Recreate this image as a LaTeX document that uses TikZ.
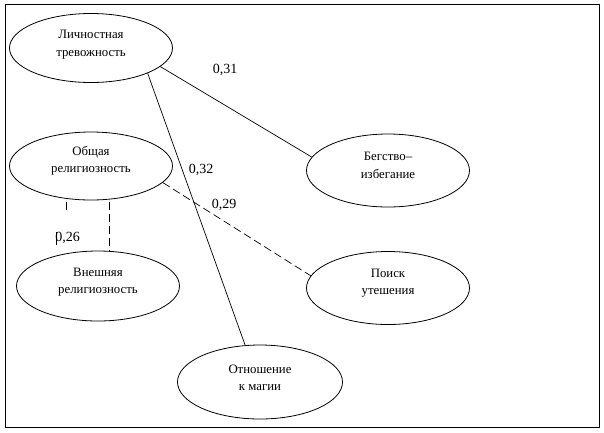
\documentclass[tikz,border=0pt]{standalone}
\usepackage{fontspec}
\setmainfont{Liberation Serif}
\newfontfamily\tnr{Liberation Serif}
\usetikzlibrary{shapes.geometric}
\begin{document}
\begin{tikzpicture}[x=1pt,y=-1pt,
  ell/.style={draw,ellipse,line width=0.8pt,inner sep=0pt,minimum width=163pt,minimum height=69pt},
  lbl/.style={align=center,inner sep=0pt,font=\tnr\fontsize{12.8}{17.5}\selectfont},
  num/.style={font=\tnr\fontsize{14}{16}\selectfont,inner sep=0pt},
  link/.style={line width=0.7pt},
  dlink/.style={line width=0.7pt,dash pattern=on 8pt off 4pt}]
\useasboundingbox (0,0) rectangle (604,432);
\draw[line width=1pt] (5.5,4) rectangle (599,427);
\node[ell] (lt) at (91,48) {};
\node[ell,minimum height=68pt] (or) at (91,166) {};
\node[ell,minimum height=70pt] (vr) at (98,286) {};
\node[ell,minimum height=73pt] (bi) at (388,170.5) {};
\node[ell,minimum height=73pt] (pu) at (388,288) {};
\node[ell,minimum width=165pt,minimum height=74pt] (km) at (260,382) {};
\node[lbl] (tlt) at ([yshift=3.5pt]lt.center) {Личностная\\тревожность};
\node[lbl] (tor) at ([yshift=5pt]or.center) {Общая\\религиозность};
\node[lbl] (tvr) at ([yshift=4pt]vr.center) {Внешняя\\религиозность};
\node[lbl] (tbi) at ([yshift=5pt]bi.center) {Бегство–\\избегание};
\node[lbl] (tpu) at ([yshift=5pt]pu.center) {Поиск\\утешения};
\node[lbl] (tkm) at ([yshift=4pt]km.center) {Отношение\\к магии};
\draw[link] (lt.-15) -- (bi.170);
\draw[link] (lt.-24) -- (km.112);
\draw[dlink] (or.-13) -- (pu.171);
\coordinate (a1) at (109,202);
\coordinate (a2) at (109,251);
\coordinate (b1) at (66,202);
\coordinate (b2) at (66,210);
\coordinate (c1) at (56,232);
\coordinate (c2) at (56,245);
\draw[dlink] (a1) -- (a2);
\draw[link] (b1) -- (b2);
\node[num] (n31) at (225,70) {0,31};
\node[num] (n32) at (201,170) {0,32};
\node[num] (n29) at (224,205) {0,29};
\node[num] (n26) at (67.5,238) {0,26};
\draw[link] (c1) -- (c2);
\end{tikzpicture}
\end{document}
